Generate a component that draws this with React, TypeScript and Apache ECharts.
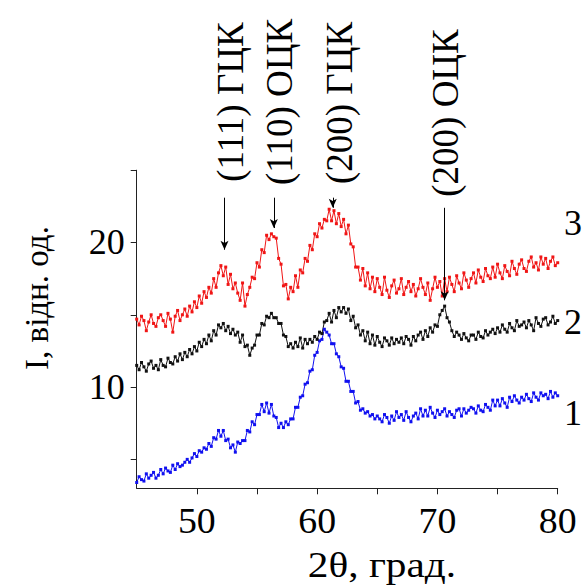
import React, { useEffect, useRef } from "react";
import * as echarts from "echarts";

// 2θ sampling grid (degrees)
const thetaStart = 45;
const thetaStep = 0.2;

// Curve 3 (red)
const curve3 = [
  14.7, 14.3, 14.9, 14.6, 13.9, 14.5, 15.0, 14.4, 14.2, 14.8,
  15.0, 14.6, 14.2, 15.1, 14.7, 13.8, 14.9, 15.3, 14.6, 15.0,
  15.4, 14.9, 15.6, 15.2, 15.9, 15.5, 16.3, 15.8, 16.6, 16.2,
  16.9, 16.5, 17.5, 16.9, 17.9, 18.4, 17.7, 18.3, 17.1, 17.8,
  16.8, 17.2, 16.5, 16.0, 17.2, 15.6, 16.4, 16.9, 17.6, 17.5,
  18.6, 18.3, 19.5, 19.3, 20.5, 20.2, 20.6, 20.4, 20.3, 18.9,
  18.5, 17.0, 17.1, 16.1, 16.9, 16.6, 17.7, 16.9, 18.1, 17.9,
  18.9, 18.7, 19.8, 19.5, 20.6, 20.4, 21.3, 21.0, 21.6, 21.5,
  22.3, 21.5, 22.2, 21.3, 22.0, 21.1, 21.6, 20.6, 21.2, 19.9,
  19.7, 18.3, 18.3, 17.4, 18.2, 17.0, 17.9, 16.8, 17.6, 16.6,
  17.5, 16.9, 16.4, 17.6, 16.7, 16.2, 17.0, 17.4, 16.5, 16.8,
  17.5, 16.4, 16.9, 17.3, 16.6, 17.1, 16.3, 16.8, 17.5, 16.9,
  16.4, 17.2, 16.0, 16.8, 17.6, 16.9, 17.3, 16.3, 17.5, 16.6,
  17.6, 17.1, 16.6, 17.7, 17.2, 16.8, 17.9, 17.4, 16.9, 17.5,
  17.9, 17.2, 18.1, 17.6, 17.3, 18.2, 17.7, 17.5, 18.3, 17.6,
  18.5, 17.9, 17.5, 18.4, 18.0, 17.7, 18.7, 18.2, 17.8, 18.5,
  18.8, 18.2, 18.0, 18.7, 19.0, 18.3, 18.6, 18.1, 19.0, 18.5,
  18.9, 18.2, 18.7, 19.0, 18.4, 18.6,
];

// Curve 2 (black)
const curve2 = [
  11.5, 11.2, 11.7, 11.4, 11.1, 11.6, 11.8, 11.3, 11.5, 11.2,
  11.9, 11.5, 11.4, 12.0, 11.7, 11.6, 12.1, 11.8, 12.3, 11.9,
  12.4, 12.1, 12.6, 12.3, 12.8, 12.5, 13.1, 12.8, 13.3, 13.0,
  13.6, 13.2, 13.9, 13.6, 14.3, 14.1, 14.4, 13.9, 14.2, 13.7,
  14.0, 13.6, 13.8, 13.1, 13.6, 12.8, 12.9, 12.2, 12.7, 12.9,
  13.6, 13.6, 14.4, 14.3, 14.9, 14.8, 15.1, 14.8, 14.8, 14.4,
  14.4, 13.6, 13.5, 12.8, 13.0, 12.7, 13.1, 12.8, 13.4, 12.7,
  13.3, 13.0, 13.3, 13.1, 13.5, 13.3, 13.8, 13.7, 14.5, 14.6,
  15.1, 14.5, 15.3, 14.8, 15.5, 15.2, 15.5, 15.1, 15.4, 14.6,
  14.9, 14.1, 14.3, 13.6, 13.9, 13.2, 13.8, 13.0, 13.6, 12.9,
  13.5, 13.1, 12.8, 13.4, 13.2, 12.9, 13.4, 13.0, 13.3, 13.1,
  13.4, 13.0, 13.5, 13.3, 12.9, 13.5, 13.2, 13.6, 13.8, 13.3,
  13.9, 13.5, 14.1, 13.8, 14.3, 14.2, 15.0, 15.3, 15.6, 14.8,
  14.5, 13.9, 13.5, 13.8, 13.6, 13.3, 13.7, 13.4, 13.2, 13.6,
  13.6, 13.3, 13.8, 13.5, 13.4, 13.9, 13.6, 13.8, 14.0, 13.7,
  14.1, 13.8, 14.3, 14.0, 13.8, 14.4, 14.1, 13.9, 14.6, 14.2,
  14.3, 14.5, 14.1, 14.6, 14.3, 13.9, 14.8, 14.4, 14.2, 14.7,
  14.8, 14.3, 14.5, 14.9, 14.4, 14.6,
];

// Curve 1 (blue)
const curve1 = [
  3.4, 3.8, 3.6, 3.5, 4.0, 3.7, 3.9, 4.1, 3.7, 3.9,
  4.3, 4.0, 4.4, 4.2, 4.1, 4.6, 4.3, 4.7, 4.5, 4.6,
  4.8, 5.0, 4.8, 5.1, 5.4, 5.2, 5.6, 5.5, 5.8, 5.7,
  6.1, 5.9, 6.5, 6.4, 7.0, 6.6, 7.0, 6.3, 6.4, 5.8,
  6.0, 5.5, 6.2, 6.1, 6.3, 6.3, 7.0, 6.9, 7.6, 7.4,
  8.1, 8.1, 8.8, 8.3, 8.9, 8.2, 8.8, 8.0, 7.9, 7.2,
  7.5, 7.2, 7.6, 7.4, 7.8, 7.8, 8.6, 8.6, 9.3, 9.4,
  10.2, 10.3, 11.1, 11.2, 12.2, 12.4, 13.2, 13.3, 14.0, 13.8,
  13.6, 13.0, 13.0, 12.3, 12.1, 11.4, 11.3, 10.4, 10.4, 9.7,
  9.7, 8.9, 9.0, 8.4, 8.5, 8.2, 8.3, 8.0, 8.1, 7.8,
  8.0, 7.8, 7.6, 8.1, 7.9, 7.5, 8.0, 7.7, 8.3, 7.9,
  8.1, 7.7, 8.3, 7.9, 7.6, 8.0, 8.2, 7.8, 8.5, 8.0,
  8.4, 8.0, 8.6, 8.2, 7.9, 8.4, 8.1, 8.3, 8.5, 8.0,
  8.3, 8.1, 7.9, 8.4, 8.5, 8.0, 8.5, 8.2, 8.4, 8.6,
  8.5, 8.2, 8.7, 8.4, 8.3, 8.8, 8.6, 8.4, 9.1, 8.7,
  9.1, 8.7, 9.2, 8.9, 8.6, 9.3, 9.0, 9.4, 9.1, 8.9,
  9.3, 9.1, 9.5, 9.2, 9.0, 9.6, 9.3, 9.1, 9.6, 9.4,
  9.5, 9.2, 9.7, 9.3, 9.6, 9.4,
];

// Axis ticks / labels
const xTicks = [50, 55, 60, 65, 70, 75, 80];
const xLabels = [50, 60, 70, 80];
const yTicks = [5, 10, 15, 20, 25];
const yLabels = [10, 20];

// Peak annotations
const peakNames = ["(111) ГЦК", "(110) ОЦК", "(200) ГЦК", "(200) ОЦК"];
const peakTheta = [52.3, 56.4, 61.3, 70.6];
const arrowFrom = [23.1, 23.1, 23.1, 22.4];
const arrowTo = [19.5, 21.0, 22.4, 16.0];

const curveNames = ["3", "2", "1"];

const FONT = "Liberation Serif";

const toPairs = (vals: number[]) =>
  vals.map((v, i) => [+(thetaStart + i * thetaStep).toFixed(1), v]);

export default function App() {
  const ref = useRef<HTMLDivElement>(null);

  useEffect(() => {
    if (!ref.current) return;
    const chart = echarts.init(ref.current, null, { renderer: "svg" });

    const arrowData = peakTheta.map((t, i) => [
      { coord: [t, arrowFrom[i]] },
      { coord: [t, arrowTo[i]] },
    ]);

    const mkSeries = (name: string, data: number[], color: string, withArrows: boolean) => ({
      name,
      type: "line",
      data: toPairs(data),
      symbol: "rect",
      symbolSize: 3,
      showSymbol: true,
      itemStyle: { color },
      lineStyle: { color, width: 1 },
      z: 2,
      markLine: withArrows
        ? {
            silent: true,
            symbol: ["none", "arrow"],
            symbolSize: [6, 9],
            label: { show: false },
            lineStyle: { color: "#000", width: 1, type: "solid" },
            data: arrowData,
          }
        : undefined,
    });

    const txt = (text: string, size: number, align = "center", vAlign = "middle") => ({
      text,
      fontFamily: FONT,
      fontSize: size,
      fill: "#000",
      align,
      verticalAlign: vAlign,
    });

    chart.setOption({
      animation: false,
      backgroundColor: "#fff",
      grid: {
        left: 136.7,
        right: 26.3,
        top: 170.2,
        bottom: 97.7,
        containLabel: false,
        outerBoundsMode: "none",
      },
      xAxis: {
        type: "value",
        min: 45,
        max: 80,
        splitLine: { show: false },
        axisLine: { show: true, onZero: false, lineStyle: { color: "#222", width: 1 } },
        axisTick: {
          show: true,
          inside: false,
          length: 6,
          customValues: xTicks,
          lineStyle: { color: "#222" },
        },
        axisLabel: { show: false },
      },
      yAxis: {
        type: "value",
        min: 3,
        max: 25,
        splitLine: { show: false },
        axisLine: { show: true, onZero: false, lineStyle: { color: "#222", width: 1 } },
        axisTick: {
          show: true,
          inside: false,
          length: 6,
          customValues: yTicks,
          lineStyle: { color: "#222" },
        },
        axisLabel: { show: false },
      },
      series: [
        mkSeries("1", curve1, "#1010f0", false),
        mkSeries("2", curve2, "#111111", false),
        mkSeries("3", curve3, "#f01515", true),
      ],
    });

    // tick labels placed through the chart's own scales
    const xLabelEls = xLabels.map((v) => {
      const p = chart.convertToPixel({ gridIndex: 0 }, [v, 3]) as number[];
      return {
        type: "text",
        x: p[0],
        y: p[1] + 33,
        scaleX: 1.05,
        style: txt(String(v), 36),
      };
    });
    const yLabelEls = yLabels.map((v) => {
      const p = chart.convertToPixel({ gridIndex: 0 }, [45, v]) as number[];
      return {
        type: "text",
        x: p[0] - 12,
        y: p[1],
        style: txt(String(v), 36, "right"),
      };
    });

    const labelX = [230, 279, 339, 445];
    const labelY = [102, 102, 103, 113];
    const curveLabelY = [223, 322, 413];

    chart.setOption({
      graphic: [
        ...xLabelEls,
        ...yLabelEls,
        ...peakNames.map((n, i) => ({
          type: "text",
          x: labelX[i],
          y: labelY[i],
          rotation: Math.PI / 2,
          style: txt(n, 37),
        })),
        ...curveNames.map((n, i) => ({
          type: "text",
          x: 573,
          y: curveLabelY[i],
          style: txt(n, 36),
        })),
        {
          type: "text",
          x: 382,
          y: 565,
          scaleX: 1.18,
          style: txt("2θ, град.", 35),
        },
        {
          type: "text",
          x: 37,
          y: 298,
          rotation: Math.PI / 2,
          style: txt("I, відн. од.", 33),
        },
      ],
    });

    return () => chart.dispose();
  }, []);

  return (
    <div
      ref={ref}
      style={{ position: "absolute", left: 0, top: 0, width: 584, height: 586 }}
    />
  );
}
